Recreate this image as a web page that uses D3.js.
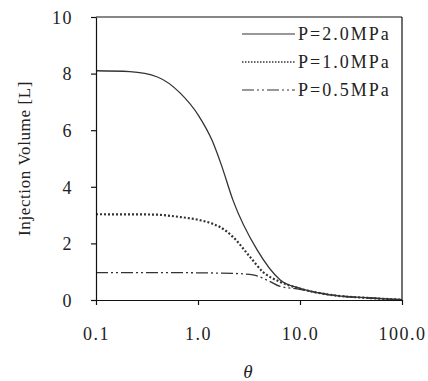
<!DOCTYPE html>
<html>
<head>
<meta charset="utf-8">
<script src="https://cdn.jsdelivr.net/npm/d3@7"></script>
<style>
  body { margin: 0; background: #fff; }
  svg text { font-family: "Liberation Serif", "DejaVu Serif", serif; fill: #222; }
</style>
</head>
<body>
<svg id="chart"></svg>
<script>
// theta and injection volume [L] for each pressure
let theta20 = [0.1, 0.215, 0.4, 0.67, 1.02, 1.37, 1.68, 2.2, 3.8, 6.4, 10, 20, 48, 100];
let p20 = [8.1, 8.07, 7.88, 7.31, 6.5, 5.65, 4.81, 3.53, 1.77, 0.71, 0.41, 0.18, 0.07, 0.01];

let theta10 = [0.1, 0.36, 0.67, 1.02, 1.4, 1.64, 2.2, 3.24, 4.34, 6.4, 10, 20, 48, 100];
let p10 = [3.03, 3.02, 2.93, 2.83, 2.69, 2.58, 2.23, 1.52, 0.99, 0.64, 0.4, 0.18, 0.07, 0.01];

let theta05 = [0.1, 0.5, 1.0, 2.2, 3.46, 5.1, 6.4, 10, 20, 48, 100];
let p05 = [0.97, 0.97, 0.96, 0.94, 0.89, 0.65, 0.48, 0.38, 0.18, 0.07, 0.01];

let seriesNames = ["P=2.0MPa", "P=1.0MPa", "P=0.5MPa"];
let xTicks = [0.1, 1, 10, 100];
let xTickLabels = ["0.1", "1.0", "10.0", "100.0"];
let yTicks = [0, 2, 4, 6, 8, 10];

let width = 428;
let height = 381;
let margin = { left: 96, right: 26, top: 17, bottom: 81 };

let svg = d3.select("#chart").attr("width", width).attr("height", height);

let x = d3
  .scaleLog()
  .domain([0.1, 100])
  .range([margin.left, width - margin.right]);
let y = d3
  .scaleLinear()
  .domain([0, 10])
  .range([height - margin.bottom, margin.top]);

// curves
let series = [
  { name: seriesNames[0], t: theta20, values: p20, dash: null, w: 1.3 },
  { name: seriesNames[1], t: theta10, values: p10, dash: "2,2", w: 2.2 },
  { name: seriesNames[2], t: theta05, values: p05, dash: "12,3,2,3,2,3", w: 1.3 },
];

let line = d3
  .line()
  .x((d) => x(d[0]))
  .y((d) => y(d[1]))
  .curve(d3.curveMonotoneX);

svg
  .selectAll(".curve")
  .data(series)
  .enter()
  .append("path")
  .attr("class", "curve")
  .attr("d", (s) => line(s.t.map((t, i) => [t, s.values[i]])))
  .attr("fill", "none")
  .attr("stroke", "#333")
  .attr("stroke-width", (s) => s.w)
  .attr("stroke-dasharray", (s) => s.dash);

// axes
let xAxis = d3
  .axisBottom(x)
  .tickValues(xTicks)
  .tickFormat((d, i) => xTickLabels[i])
  .tickSize(5)
  .tickSizeOuter(0)
  .tickPadding(22);
let yAxis = d3
  .axisLeft(y)
  .tickValues(yTicks)
  .tickSize(5)
  .tickSizeOuter(0)
  .tickPadding(18);

let gx = svg
  .append("g")
  .attr("transform", `translate(0,${height - margin.bottom})`)
  .call(xAxis);
let gy = svg
  .append("g")
  .attr("transform", `translate(${margin.left},0)`)
  .call(yAxis);

[gx, gy].forEach((g) => {
  g.attr("font-family", null).attr("font-size", null);
  g.selectAll("path, line").attr("stroke", "#111").attr("stroke-width", 1.2);
  g.selectAll("text")
    .style("font-size", "18px")
    .style("letter-spacing", "1.5px")
    .attr("fill", "#222");
});
gy.selectAll("text").attr("dy", "0.35em");

// top and right frame
svg
  .append("line")
  .attr("x1", x(0.1))
  .attr("x2", x(100))
  .attr("y1", y(10))
  .attr("y2", y(10))
  .attr("stroke", "#111")
  .attr("stroke-width", 1.2);
svg
  .append("line")
  .attr("x1", x(100))
  .attr("x2", x(100))
  .attr("y1", y(10))
  .attr("y2", y(0))
  .attr("stroke", "#111")
  .attr("stroke-width", 1.2);

// axis titles
svg
  .append("text")
  .attr("transform", `translate(30,${(y(0) + y(10)) / 2}) rotate(-90)`)
  .attr("text-anchor", "middle")
  .style("font-size", "17px")
  .style("letter-spacing", "0.6px")
  .text("Injection Volume [L]");

svg
  .append("text")
  .attr("x", 248)
  .attr("y", 378)
  .attr("text-anchor", "middle")
  .style("font-size", "19px")
  .style("font-style", "italic")
  .text("θ");

// legend
let legend = svg
  .selectAll(".legend")
  .data(series)
  .enter()
  .append("g")
  .attr("class", "legend")
  .attr("transform", (d, i) => `translate(242,${34 + i * 28})`);

legend
  .append("line")
  .attr("x1", 0)
  .attr("x2", 53)
  .attr("stroke", "#333")
  .attr("stroke-width", (s) => (s.dash === "2,2" ? 1.6 : 1.2))
  .attr("stroke-dasharray", (s) => (s.dash === "2,2" ? "1.5,1.5" : s.dash));

legend
  .append("text")
  .attr("x", 56)
  .attr("dy", "0.35em")
  .style("font-size", "18px")
  .style("letter-spacing", "2px")
  .text((s) => s.name);
</script>
</body>
</html>
